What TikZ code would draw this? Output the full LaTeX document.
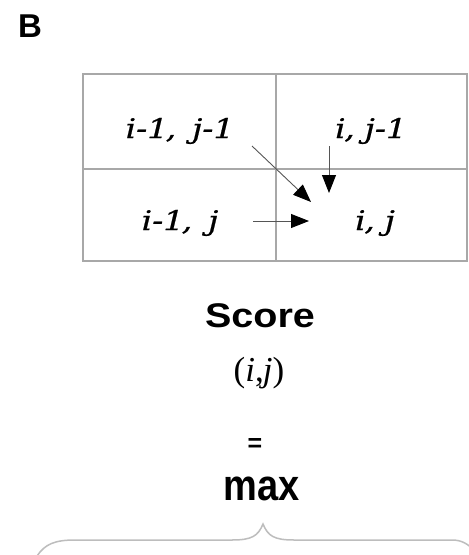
\documentclass[tikz,border=0pt]{standalone}
\usepackage{fontspec}
\setmainfont{Liberation Serif}
\setsansfont{Liberation Sans}
\newfontfamily\cellfont[ItalicFeatures={FakeBold=0.6}]{DejaVu Serif}
\usetikzlibrary{arrows.meta}
\definecolor{gridgray}{HTML}{A8A8A8}
\definecolor{bracegray}{HTML}{BDBDBD}
\definecolor{arrowgray}{HTML}{555555}
\newcommand{\celltxt}[1]{\scalebox{1.22}[1]{#1}}
\tikzset{
  celltext/.style={anchor=base, inner sep=0pt, font=\cellfont\fontsize{27}{30}\selectfont\itshape},
  sanslabel/.style={anchor=base, inner sep=0pt, font=\sffamily\bfseries},
  gridline/.style={draw=gridgray, line width=1.4pt},
  moveto/.style={draw=arrowgray, line width=0.9pt, -{Triangle[length=18pt,width=14pt,fill=black,color=black]}},
  bracestyle/.style={draw=bracegray, line width=1.5pt}
}
\begin{document}
\begin{tikzpicture}[x=1pt,y=-1pt]
\useasboundingbox (0,0) rectangle (469,555);
\clip (0,0) rectangle (469,555);
\fill[white] (0,0) rectangle (469,555);
% panel label
\node[sanslabel, font=\sffamily\bfseries\fontsize{33}{35}\selectfont] (lab) at (30,37) {B};
% table
\draw[gridline] (83,74) rectangle (467,261);
\draw[gridline] (276,74) -- (276,261);
\draw[gridline] (83,169) -- (467,169);
% cell texts
\node[celltext] (tl) at (180,138) {\celltxt{i-1\kern-2pt,\hspace{13pt}j-1}};
\node[celltext] (tr) at (371,138) {\celltxt{i\kern-1pt,\hspace{8pt}j-1}};
\node[celltext] (bl) at (180,230) {\celltxt{i-1\kern-2pt,\hspace{13pt}j}};
\node[celltext] (br) at (375,230) {\celltxt{i\kern-1pt,\hspace{8pt}j}};
% arrows
\coordinate (dstart) at (252,146);
\coordinate (dend) at (311,202);
\coordinate (vstart) at (329,146);
\coordinate (vend) at (329,193);
\coordinate (hstart) at (253,221);
\coordinate (hend) at (309,221);
\draw[moveto] (dstart) -- (dend);
\draw[moveto] (vstart) -- (vend);
\draw[moveto] (hstart) -- (hend);
% score formula
\node[sanslabel, font=\sffamily\bfseries\fontsize{38}{40}\selectfont] (score) at (260,327) {\scalebox{1.04}[0.9]{Score}};
\node[anchor=base, inner sep=0pt, font=\fontsize{35}{37}\selectfont] (ij) at (259,381) {(\textit{i},\kern-1pt\textit{j})};
\node[sanslabel, font=\sffamily\bfseries\fontsize{25}{27}\selectfont] (eq) at (255,451) {=};
\node[sanslabel, font=\sffamily\bfseries\fontsize{38}{40}\selectfont] (max) at (262,500) {\scalebox{1}[1.15]{max}};
% brace
\coordinate (tip) at (263,524);
\draw[bracestyle] (37,556) .. controls (45,544) and (55,540) .. (75,540)
  -- (232,540) .. controls (252,540) and (258,536) .. (tip)
  .. controls (268,536) and (274,540) .. (294,540)
  -- (452,540) .. controls (462,540) and (468,544) .. (476,552);
\end{tikzpicture}
\end{document}
